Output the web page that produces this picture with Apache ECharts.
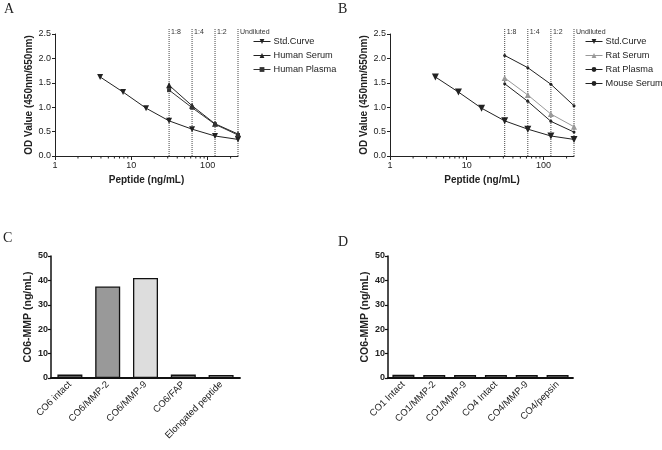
<!DOCTYPE html>
<html><head><meta charset="utf-8">
<script src="https://cdn.jsdelivr.net/npm/echarts@6/dist/echarts.min.js"></script>
<style>html,body{margin:0;padding:0;background:#fff}#c{width:662px;height:450px}</style>
</head><body><div id="c"></div>
<script>
// ---- data ----
const conc = [3.9, 7.8, 15.6, 31.25, 62.5, 125, 250];
const sampleConc = [31.25, 62.5, 125, 250];
const dilutionLabels = ['1:8', '1:4', '1:2', 'Undiluted'];
const minorTicks = [2,3,4,5,6,7,8,9,20,30,40,50,60,70,80,90,200];

const stdA = [1.62, 1.31, 0.98, 0.72, 0.55, 0.41, 0.34];
const humanSerum = [1.45, 1.03, 0.66, 0.45];
const humanPlasma = [1.35, 0.99, 0.65, 0.43];

const stdB = [1.62, 1.31, 0.98, 0.72, 0.55, 0.41, 0.34];
const ratSerum = [1.60, 1.25, 0.86, 0.60];
const ratPlasma = [2.06, 1.81, 1.47, 1.03];
const mouseSerum = [1.48, 1.12, 0.71, 0.49];

const catsC = ['CO6 intact', 'CO6/MMP-2', 'CO6/MMP-9', 'CO6/FAP', 'Elongated peptide'];
const valsC = [1.4, 37.5, 41.0, 1.4, 1.2];
const catsD = ['CO1 Intact', 'CO1/MMP-2', 'CO1/MMP-9', 'CO4 Intact', 'CO4/MMP-9', 'CO4/pepsin'];
const valsD = [1.3, 1.2, 1.2, 1.2, 1.2, 1.2];

// ---- chart ----
const FONT = 'Liberation Sans, Arial, sans-serif';
const TXT = '#222';
const pair = (xs, ys) => ys.map((y, i) => [xs[i], y]);
const chart = echarts.init(document.getElementById('c'), null, {renderer: 'canvas'});

function logX(gi) {
  return {
    type: 'log', logBase: 10, min: 1, max: 250, gridIndex: gi,
    name: 'Peptide (ng/mL)', nameLocation: 'middle', nameGap: 19,
    nameTextStyle: {fontFamily: FONT, fontSize: 10, fontWeight: 'bold', color: TXT},
    axisLine: {lineStyle: {color: '#222', width: 1}},
    axisTick: {length: 4, lineStyle: {color: '#222'}},
    axisLabel: {fontFamily: FONT, fontSize: 9, color: TXT, margin: 5, showMaxLabel: false},
    splitLine: {show: false}
  };
}
function odY(gi) {
  return {
    type: 'value', min: 0, max: 2.5, interval: 0.5, gridIndex: gi,
    name: 'OD Value (450nm/650nm)', nameLocation: 'middle', nameGap: 18,
    nameTextStyle: {fontFamily: FONT, fontSize: 10, fontWeight: 'bold', color: TXT},
    axisLine: {show: true, lineStyle: {color: '#222', width: 1}},
    axisTick: {show: true, length: 3, lineStyle: {color: '#222'}},
    axisLabel: {fontFamily: FONT, fontSize: 9, color: TXT, margin: 4, formatter: v => v.toFixed(1)},
    splitLine: {show: false}
  };
}
function catX(gi, cats) {
  return {
    type: 'category', data: cats, gridIndex: gi,
    axisLine: {lineStyle: {color: '#111', width: 1.8}},
    axisTick: {alignWithLabel: true, length: 4, lineStyle: {color: '#111', width: 1.2}},
    axisLabel: {fontFamily: FONT, fontSize: 9.5, color: TXT, rotate: 45, margin: 5, interval: 0}
  };
}
function barY(gi) {
  return {
    type: 'value', min: 0, max: 50, interval: 10, gridIndex: gi,
    name: 'CO6-MMP (ng/mL)', nameLocation: 'middle', nameGap: 13,
    nameTextStyle: {fontFamily: FONT, fontSize: 10.5, fontWeight: 'bold', color: TXT},
    axisLine: {show: true, lineStyle: {color: '#111', width: 1.5}},
    axisTick: {show: true, length: 3, lineStyle: {color: '#111', width: 1.2}},
    axisLabel: {fontFamily: FONT, fontSize: 9, fontWeight: 'bold', color: TXT, margin: 3},
    splitLine: {show: false}
  };
}
function minorTickSeries(xi, yi) {
  return {
    type: 'custom', xAxisIndex: xi, yAxisIndex: yi, silent: true, clip: false,
    data: minorTicks.map(v => [v, 0]),
    renderItem: (p, api) => {
      const c = api.coord([api.value(0), 0]);
      return {type: 'line', shape: {x1: c[0], y1: c[1], x2: c[0], y2: c[1] + 2.5},
        style: {stroke: '#222', lineWidth: 1}};
    }
  };
}
function dilutionSeries(xi, yi) {
  return {
    type: 'custom', xAxisIndex: xi, yAxisIndex: yi, silent: true, clip: false,
    data: sampleConc.map(v => [v, 2.5]),
    renderItem: (p, api) => {
      const b = api.coord([api.value(0), 0]);
      const t = api.coord([api.value(0), 2.5]);
      return {type: 'group', children: [
        {type: 'line', shape: {x1: b[0], y1: b[1], x2: b[0], y2: t[1] - 5},
          style: {stroke: '#444', lineWidth: 1, lineDash: [1, 1]}},
        {type: 'text', x: b[0] + 2, y: t[1] - 5,
          style: {text: dilutionLabels[p.dataIndex], fontSize: 7, fontFamily: FONT, fill: '#333', verticalAlign: 'top'}}
      ]};
    }
  };
}
function lineSeries(name, xi, data, symbol, size, color, rot) {
  return {
    type: 'line', name, xAxisIndex: xi, yAxisIndex: xi, data, symbol, symbolSize: size,
    symbolRotate: rot || 0,
    lineStyle: {color, width: 1}, itemStyle: {color}
  };
}
function legend(left, names) {
  return {left, top: 37, orient: 'vertical', padding: 0, itemWidth: 17, itemHeight: 6, itemGap: 5,
    textStyle: {fontFamily: FONT, fontSize: 9.2, color: TXT, padding: [0, 0, 0, -2]},
    lineStyle: {width: 1}, data: names};
}
const letterFont = '14px "Liberation Serif", serif';

const option = {
  animation: false,
  backgroundColor: '#fff',
  textStyle: {fontFamily: FONT},
  grid: [
    {left: 55, top: 34, width: 183, height: 122},
    {left: 390, top: 34, width: 184, height: 122},
    {left: 51, top: 256, width: 189, height: 122},
    {left: 388, top: 256, width: 185, height: 122}
  ],
  xAxis: [logX(0), logX(1), catX(2, catsC), catX(3, catsD)],
  yAxis: [odY(0), odY(1), barY(2), barY(3)],
  legend: [
    legend(253, ['Std.Curve', 'Human Serum', 'Human Plasma']),
    legend(585, ['Std.Curve ', 'Rat Serum', 'Rat Plasma', 'Mouse Serum'])
  ],
  graphic: [
    {type: 'text', left: 4, top: 2, style: {text: 'A', font: letterFont, fill: '#222'}},
    {type: 'text', left: 338, top: 2, style: {text: 'B', font: letterFont, fill: '#222'}},
    {type: 'text', left: 3, top: 231, style: {text: 'C', font: letterFont, fill: '#222'}},
    {type: 'text', left: 338, top: 235, style: {text: 'D', font: letterFont, fill: '#222'}}
  ],
  series: [
    minorTickSeries(0, 0), minorTickSeries(1, 1),
    dilutionSeries(0, 0), dilutionSeries(1, 1),
    lineSeries('Std.Curve', 0, pair(conc, stdA), 'triangle', 6, '#222', 180),
    lineSeries('Human Serum', 0, pair(sampleConc, humanSerum), 'triangle', 6, '#222'),
    lineSeries('Human Plasma', 0, pair(sampleConc, humanPlasma), 'rect', 4, '#333'),
    lineSeries('Std.Curve ', 1, pair(conc, stdB), 'triangle', 7, '#222', 180),
    lineSeries('Rat Serum', 1, pair(sampleConc, ratSerum), 'triangle', 6, '#999'),
    lineSeries('Rat Plasma', 1, pair(sampleConc, ratPlasma), 'circle', 3, '#222'),
    lineSeries('Mouse Serum', 1, pair(sampleConc, mouseSerum), 'circle', 3, '#222'),
    {type: 'bar', xAxisIndex: 2, yAxisIndex: 2, barWidth: 25,
      data: valsC.map((v, i) => ({value: v, itemStyle: {color: ['#777', '#999', '#ddd', '#888', '#bbb'][i]}})),
      itemStyle: {borderColor: '#111', borderWidth: 1.3}},
    {type: 'bar', xAxisIndex: 3, yAxisIndex: 3, barWidth: 22,
      data: valsD,
      itemStyle: {color: '#888', borderColor: '#111', borderWidth: 1.3}}
  ]
};
chart.setOption(option);
</script></body></html>
